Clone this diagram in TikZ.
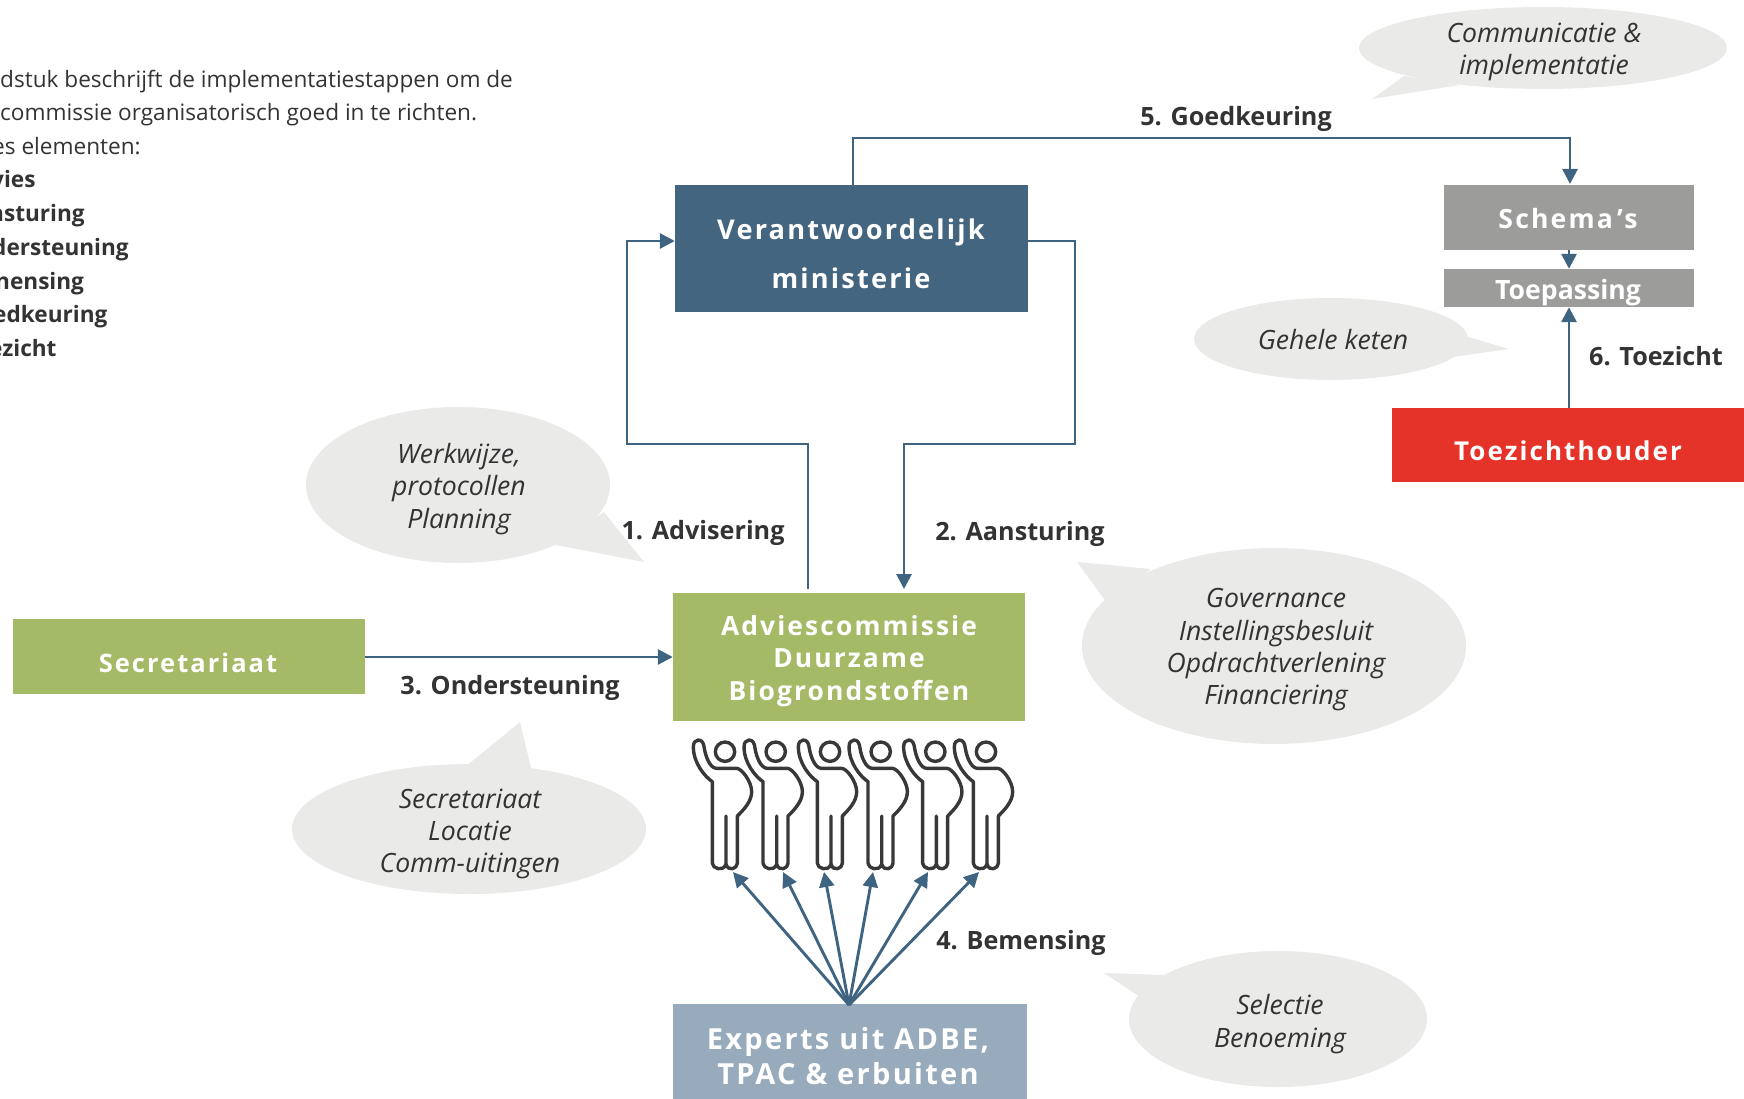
\documentclass[tikz,border=0pt]{standalone}
\usepackage{fontspec}
\usetikzlibrary{arrows.meta,positioning}
\setmainfont{Open Sans}
\newfontfamily\spaced[LetterSpace=8]{Open Sans}
\definecolor{arrowblue}{HTML}{3F6482}
\definecolor{minblue}{HTML}{44657F}
\definecolor{leaf}{HTML}{A5BA66}
\definecolor{expert}{HTML}{98ABBC}
\definecolor{stone}{HTML}{9C9C9B}
\definecolor{alarm}{HTML}{E63329}
\definecolor{bubble}{HTML}{EAEAE9}
\definecolor{ink}{HTML}{333333}
\tikzset{
  x=1pt,y=-1pt,
  arr/.style={draw=arrowblue,line width=2.9pt,-{Triangle[length=15pt,width=15pt]}},
  fill box/.style={rectangle,inner sep=0pt,draw=none,fill=#1},
  boxtext/.style={text=white,align=center,inner sep=0pt,font=\spaced\bfseries\fontsize{26}{34}\selectfont},
  steplabel/.style={text=ink,inner sep=0pt,font=\bfseries\fontsize{25.2}{30}\selectfont},
  bubbletext/.style={text=ink,inner sep=0pt,align=center,font=\itshape\fontsize{26.6}{32.3}\selectfont},
  bodytext/.style={text=ink,inner sep=0pt,anchor=base west,font=\fontsize{22.6}{27}\selectfont},
  bodybold/.style={text=ink,inner sep=0pt,anchor=base west,font=\bfseries\fontsize{22.6}{27}\selectfont},
  person/.pic={
    \draw[draw=black!78,line width=3.4pt,line join=round,line cap=round,scale=0.3333]
      (0,0) circle (29)
      (-38,335) -- (-38,90) .. controls (-60,75) and (-95,35) .. (-95,-15)
      .. controls (-95,-28) and (-88,-35) .. (-80,-35)
      .. controls (-68,-35) and (-64,-25) .. (-62,-10)
      .. controls (-58,15) and (-45,50) .. (-25,50)
      -- (35,50) .. controls (50,50) and (80,90) .. (80,120)
      .. controls (80,150) and (55,175) .. (37,193)
      -- (37,335) .. controls (37,350) and (10,362) .. (3,337)
      .. controls (-5,362) and (-38,350) .. (-38,335)
      (3,193) -- (3,337);
  }
}
\begin{document}
\begin{tikzpicture}
\useasboundingbox (0,0) rectangle (1744,1099);
% bubbles
\fill[bubble] (1543,48) ellipse [x radius=184,y radius=41];
\fill[bubble] (1372,99) -- (1404,76) -- (1460,85) -- cycle;
\fill[bubble] (1331,339) ellipse [x radius=137,y radius=41];
\fill[bubble] (1509,349) -- (1465,336) -- (1446,358) -- cycle;
\fill[bubble] (458,485) ellipse [x radius=152,y radius=78];
\fill[bubble] (644,562) -- (604,512) -- (556,545) -- cycle;
\fill[bubble] (1274,646) ellipse [x radius=192,y radius=98];
\fill[bubble] (1077,562) -- (1151,569) -- (1107,603) -- cycle;
\fill[bubble] (469,829) ellipse [x radius=177,y radius=65];
\fill[bubble] (520,722) -- (465,767) -- (532,772) -- cycle;
\fill[bubble] (1278,1019) ellipse [x radius=149,y radius=68];
\fill[bubble] (1104,973) -- (1166,975) -- (1146,1001) -- cycle;
% boxes
\node[fill box=minblue,minimum width=353pt,minimum height=127pt] (min) at (851.5,248.5) {};
\node[fill box=stone,minimum width=250pt,minimum height=65pt] (sch) at (1569,217.5) {};
\node[fill box=stone,minimum width=250pt,minimum height=38pt] (toe) at (1569,288) {};
\node[fill box=alarm,minimum width=352pt,minimum height=74pt] (tzh) at (1568,445) {};
\node[fill box=leaf,minimum width=352pt,minimum height=128pt] (adv) at (849,657) {};
\node[fill box=leaf,minimum width=352pt,minimum height=75pt] (sec) at (189,656.5) {};
\node[fill box=expert,minimum width=354pt,minimum height=95pt] (exp) at (850,1051.5) {};
% box text
\node[boxtext,font=\spaced\bfseries\fontsize{27.2}{49}\selectfont] (tmin) at (851,254) {Verantwoordelijk\\ministerie};
\node[boxtext,font=\spaced\bfseries\fontsize{26.6}{34}\selectfont] (tsch) at (1568,219) {Schema\,’s};
\node[boxtext,font=\bfseries\fontsize{26.6}{30}\selectfont] (ttoe) at (1568,293) {Toepassing};
\node[boxtext] (ttzh) at (1568,451) {Toezichthouder};
\node[boxtext,font=\spaced\bfseries\fontsize{25.5}{34}\selectfont] (tsec) at (188,663) {Secretariaat};
\node[boxtext,font=\spaced\bfseries\fontsize{26.4}{32.3}\selectfont] (tadv) at (849,661) {Adviescommissie\\Duurzame\\Biogrondstoffen};
\node[boxtext,font=\spaced\bfseries\fontsize{29}{35}\selectfont] (texp) at (848,1056) {Experts uit ADBE,\\TPAC \& erbuiten};
% anchors for connectors
\coordinate (m5) at (853,185);
\coordinate (s5) at (1570,184);
\coordinate (a1) at (808,589);
\coordinate (a2) at (904,589);
\coordinate (f0) at (849,1005);
\draw[arr] (m5) |- (853,138) -| (s5);
\draw[arr] (a1) |- (627,444) |- (min.west |- 0,241);
\draw[arr] (min.east |- 0,241) -| (1075,444) -| (a2);
\draw[arr] (sec.east |- 0,657) -- (adv.west |- 0,657);
\draw[arr] (sch.south) -- (toe.north);
\draw[arr] (tzh.north -| toe.south) -- (toe.south);
% fan
\coordinate (p1) at (733,872);
\coordinate (p2) at (783,872);
\coordinate (p3) at (824,872);
\coordinate (p4) at (873,872);
\coordinate (p5) at (928,872);
\coordinate (p6) at (979,872);
\foreach \t in {p1,p2,p3,p4,p5,p6} \draw[arr] (f0) -- (\t);
% people
\foreach \px in {725,775.7,830,880.7,935.3,986} \pic at (\px,751.7) {person};
% step labels
\node[steplabel] (l5) at (1236,119) {5. Goedkeuring};
\node[steplabel] (l1) at (703,533) {1. Advisering};
\node[steplabel] (l2) at (1020,534) {2. Aansturing};
\node[steplabel] (l3) at (510,688) {3. Ondersteuning};
\node[steplabel] (l4) at (1021,943) {4. Bemensing};
\node[steplabel] (l6) at (1656,356) {6. Toezicht};
% bubble text
\node[bubbletext] (b1) at (1544,52) {Communicatie \&\\implementatie};
\node[bubbletext] (b2) at (1333,340) {Gehele keten};
\node[bubbletext] (b3) at (459,489) {Werkwijze,\\protocollen\\Planning};
\node[bubbletext] (b4) at (1276,650) {Governance\\Instellingsbesluit\\Opdrachtverlening\\Financiering};
\node[bubbletext] (b5) at (470,834) {Secretariaat\\Locatie\\Comm-uitingen};
\node[bubbletext] (b6) at (1280,1024) {Selectie\\Benoeming};
% body text
\node[bodytext] (t1) at (0,88) {dstuk beschrijft de implementatiestappen om de};
\node[bodytext] (t2) at (0,121) {commissie organisatorisch goed in te richten.};
\node[bodytext] (t3) at (-8,155) {es elementen:};
\node[bodybold] (t4) at (-9,188) {vies};
\node[bodybold] (t5) at (-11,222) {nsturing};
\node[bodybold] (t6) at (-8,255) {dersteuning};
\node[bodybold] (t7) at (-5,289) {nensing};
\node[bodybold] (t8) at (-7,322) {edkeuring};
\node[bodybold] (t9) at (-11,356) {ezicht};
\end{tikzpicture}
\end{document}
